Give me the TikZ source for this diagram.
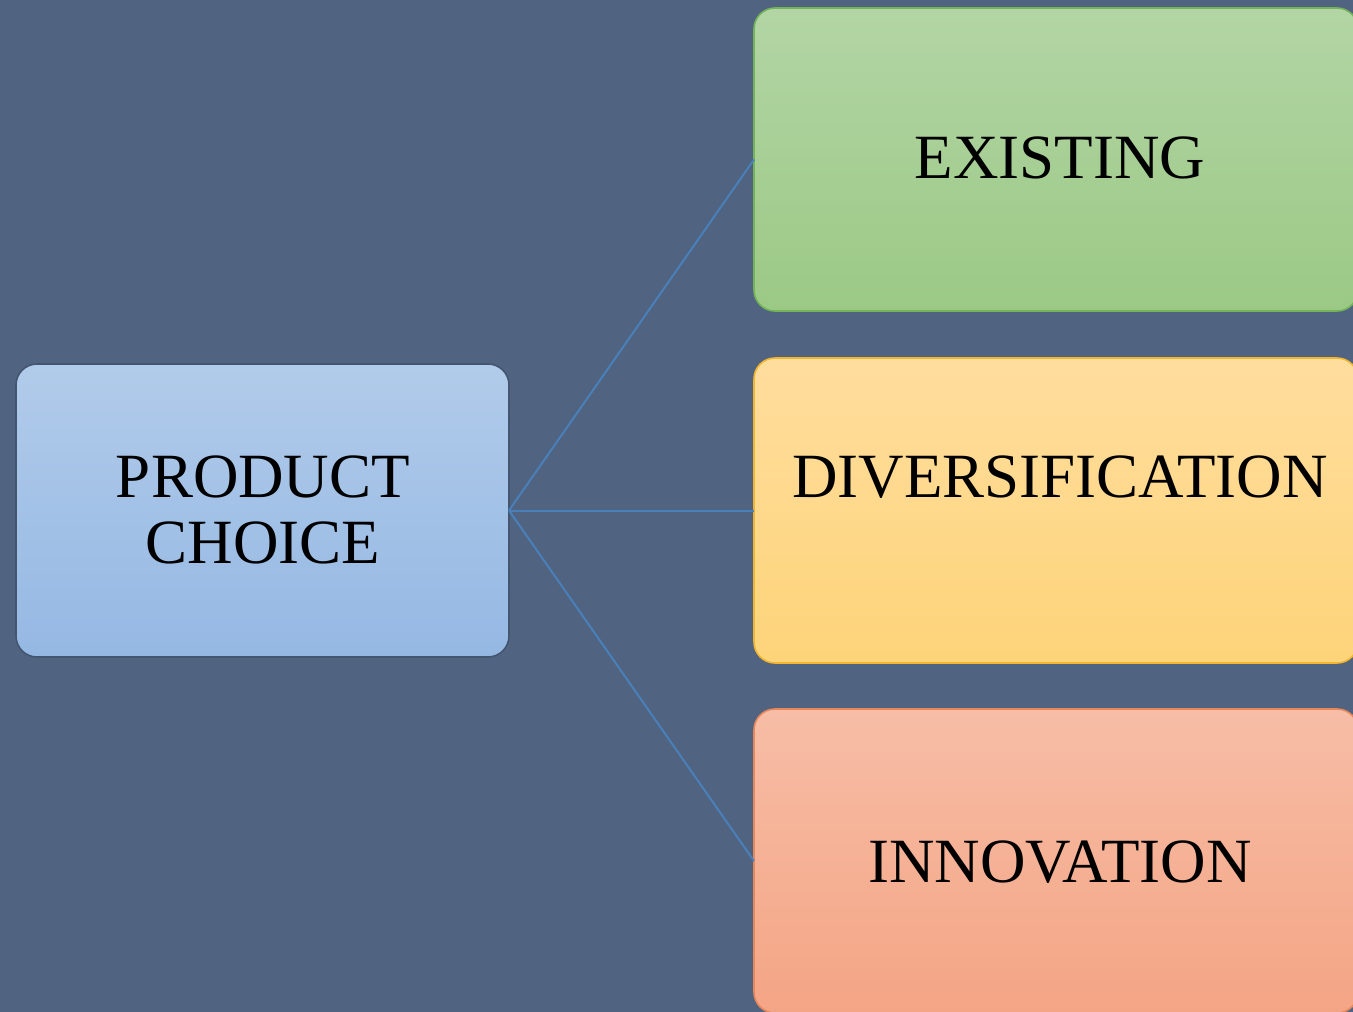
\documentclass[tikz,border=0pt]{standalone}
\usepackage{fontspec}
\setmainfont{Liberation Serif}
\definecolor{bg}{HTML}{506381}
\definecolor{blueT}{HTML}{B1CBEA}
\definecolor{blueB}{HTML}{95B8E3}
\definecolor{blueD}{HTML}{445570}
\definecolor{greenT}{HTML}{B3D5A5}
\definecolor{greenB}{HTML}{9BC985}
\definecolor{greenD}{HTML}{74B358}
\definecolor{yelT}{HTML}{FFDD9D}
\definecolor{yelB}{HTML}{FED47A}
\definecolor{yelD}{HTML}{F2B530}
\definecolor{salT}{HTML}{F7BDA6}
\definecolor{salB}{HTML}{F4A585}
\definecolor{salD}{HTML}{E8885A}
\definecolor{link}{HTML}{4A80B9}
\begin{document}
\begin{tikzpicture}[x=1pt,y=-1pt,
  box/.style={rectangle, rounded corners=21pt, inner sep=0pt, outer sep=0pt, line width=1.6pt, anchor=north west},
  lbl/.style={inner sep=0pt, anchor=base, font=\fontsize{63}{64}\selectfont, text=black},
  conn/.style={draw=link, line width=2pt}]
\fill[bg] (0,0) rectangle (1353,1012);
\useasboundingbox (0,0) rectangle (1353,1012);
\node[box, draw=blueD, top color=blueT, bottom color=blueB, minimum width=493pt, minimum height=293pt] (pc) at (16,364) {};
\node[box, draw=greenD, top color=greenT, bottom color=greenB, minimum width=604pt, minimum height=303pt] (ex) at (754,8) {};
\node[box, draw=yelD, top color=yelT, bottom color=yelB, minimum width=604pt, minimum height=305pt] (dv) at (754,358) {};
\node[box, draw=salD, top color=salT, bottom color=salB, minimum width=604pt, minimum height=304pt] (in) at (754,709) {};
\draw[conn] (pc.east) -- (ex.west);
\draw[conn] (pc.east) -- (dv.west);
\draw[conn] (pc.east) -- (in.west);
\node[lbl] (t1) at (263,497) {PRODUCT};
\node[lbl] (t2) at (263,563) {CHOICE};
\node[lbl] (t3) at (1060,178) {EXISTING};
\node[lbl] (t4) at (1060,497) {DIVERSIFICATION};
\node[lbl] (t5) at (1060,882) {INNOVATION};
\end{tikzpicture}
\end{document}
